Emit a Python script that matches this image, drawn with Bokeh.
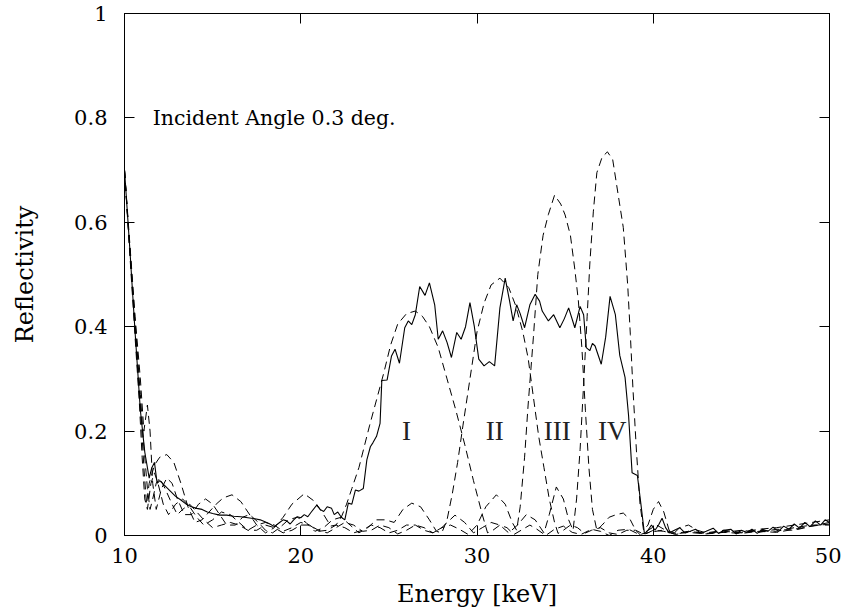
from bokeh.plotting import figure
from bokeh.models import LinearAxis, Range1d, FixedTicker
from bokeh.core.properties import value
from bokeh.embed import file_html
from bokeh.resources import INLINE

# ---------------- data ----------------
total_e = [10.0, 10.3, 10.6, 10.9, 11.15, 11.4, 11.55, 11.7, 11.85, 12.0, 12.3, 12.6, 12.9, 13.2, 13.5,
           13.8, 14.1, 14.4, 14.7, 15.0, 15.4, 15.8, 16.2, 16.6, 17.0, 17.4, 17.7, 18.0, 18.25, 18.5,
           18.8, 19.0, 19.2, 19.4, 19.6, 19.8, 20.0, 20.2, 20.4, 20.6, 20.9, 21.1, 21.3, 21.5, 21.75,
           21.9, 22.1, 22.3, 22.5, 22.7, 22.9, 23.1, 23.3, 23.55, 23.75, 23.95, 24.1, 24.3, 24.5, 24.6,
           24.9, 25.15, 25.35, 25.6, 25.9, 26.1, 26.3, 26.5, 26.75, 27.05, 27.3, 27.6, 27.8, 28.05, 28.3,
           28.55, 28.85, 29.1, 29.35, 29.6, 29.85, 30.1, 30.4, 30.7, 31.0, 31.3, 31.6, 31.85, 32.05, 32.25,
           32.45, 32.7, 33.0, 33.3, 33.55, 33.7, 34.05, 34.35, 34.7, 34.95, 35.2, 35.55, 35.85, 36.05, 36.2,
           36.4, 36.55, 36.7, 37.05, 37.3, 37.55, 37.85, 38.1, 38.4, 38.6, 38.8, 39.1, 39.3, 39.5, 39.7,
           39.9, 40.1, 40.3, 40.5, 40.7, 40.9, 41.2, 41.5, 41.8, 42.1, 42.4, 42.7, 43.0, 43.4, 43.7,
           44.0, 44.4, 44.7, 45.0, 45.3, 45.6, 45.9, 46.2, 46.5, 46.8, 47.1, 47.4, 47.7, 48.0, 48.3,
           48.6, 48.9, 49.2, 49.5, 49.75, 50.0]
total_r = [0.70, 0.55, 0.39, 0.24, 0.16, 0.11, 0.13, 0.14, 0.10, 0.105, 0.095, 0.085, 0.075, 0.068, 0.06,
           0.055, 0.052, 0.05, 0.045, 0.042, 0.039, 0.039, 0.037, 0.036, 0.034, 0.032, 0.03, 0.026, 0.022, 0.017,
           0.025, 0.03, 0.028, 0.022, 0.03, 0.036, 0.034, 0.04, 0.036, 0.045, 0.058, 0.05, 0.046, 0.055, 0.052,
           0.04, 0.045, 0.035, 0.03, 0.062, 0.06, 0.087, 0.085, 0.09, 0.145, 0.17, 0.178, 0.19, 0.215, 0.297,
           0.298, 0.344, 0.357, 0.33, 0.398, 0.411, 0.404, 0.423, 0.477, 0.46, 0.484, 0.442, 0.376, 0.392, 0.37,
           0.341, 0.389, 0.376, 0.40, 0.446, 0.40, 0.338, 0.325, 0.333, 0.325, 0.436, 0.493, 0.449, 0.411, 0.442,
           0.425, 0.398, 0.442, 0.462, 0.449, 0.43, 0.411, 0.423, 0.398, 0.415, 0.436, 0.398, 0.439, 0.423, 0.36,
           0.354, 0.368, 0.363, 0.328, 0.38, 0.458, 0.423, 0.345, 0.303, 0.23, 0.12, 0.115, 0.06, 0.003, 0.01,
           0.02, 0.01, 0.02, 0.033, 0.015, 0.005, 0.01, 0.015, 0.005, 0.008, 0.012, 0.004, 0.008, 0.014, 0.004,
           0.01, 0.012, 0.003, 0.01, 0.006, 0.012, 0.004, 0.012, 0.008, 0.016, 0.008, 0.018, 0.012, 0.022, 0.014,
           0.025, 0.017, 0.028, 0.02, 0.03, 0.025]

block1_e = [10.0, 10.3, 10.6, 10.9, 11.1, 11.25, 11.4, 11.7, 12.0, 12.4, 12.8, 13.2, 13.6, 14.0, 14.4,
            14.8, 15.2, 15.6, 16.1, 16.6, 17.0, 17.5, 18.0, 18.5, 19.0, 19.5, 20.2, 20.8, 21.3, 21.7,
            22.0, 22.3, 22.6, 22.9, 23.3, 23.6, 23.9, 24.3, 24.7, 25.1, 25.5, 26.0, 26.5, 26.9, 27.3,
            27.8, 28.3, 28.8, 29.3, 29.8, 30.3, 30.6, 30.9, 31.3, 31.7, 32.1, 32.5, 33.0, 33.4, 33.9,
            34.4, 34.9, 35.4, 35.9, 36.5, 37.0, 37.5, 38.0, 38.6, 39.2, 39.8, 40.5, 41.2, 42.0, 43.0,
            44.0, 45.0, 46.0, 47.0, 48.0, 49.0, 50.0]
block1_r = [0.70, 0.55, 0.40, 0.25, 0.13, 0.06, 0.10, 0.135, 0.15, 0.155, 0.14, 0.10, 0.055, 0.025, 0.03,
            0.045, 0.06, 0.072, 0.078, 0.065, 0.045, 0.02, 0.005, 0.015, 0.035, 0.06, 0.08, 0.065, 0.04, 0.018,
            0.02, 0.035, 0.06, 0.09, 0.13, 0.17, 0.21, 0.26, 0.31, 0.365, 0.405, 0.425, 0.43, 0.42, 0.40,
            0.36, 0.30, 0.24, 0.175, 0.105, 0.04, 0.005, 0.01, 0.02, 0.015, 0.002, 0.01, 0.02, 0.012, 0.0,
            0.012, 0.018, 0.006, 0.002, 0.012, 0.008, 0.0, 0.01, 0.012, 0.002, 0.006, 0.01, 0.003, 0.006, 0.003,
            0.006, 0.004, 0.008, 0.006, 0.012, 0.018, 0.025]

block2_e = [10.0, 10.3, 10.6, 10.9, 11.1, 11.3, 11.45, 11.6, 11.8, 12.1, 12.4, 12.7, 13.0, 13.4, 13.8,
            14.2, 14.6, 15.0, 15.4, 15.8, 16.3, 16.7, 17.1, 17.6, 18.0, 18.4, 18.8, 19.3, 19.8, 20.3,
            20.8, 21.3, 21.8, 22.3, 22.8, 23.3, 23.8, 24.3, 24.8, 25.3, 25.8, 26.3, 26.8, 27.3, 27.7,
            28.0, 28.3, 28.6, 28.9, 29.2, 29.6, 30.0, 30.4, 30.8, 31.3, 31.8, 32.2, 32.6, 32.9, 33.2,
            33.5, 33.8, 34.1, 34.4, 34.6, 34.9, 35.3, 35.7, 36.1, 36.5, 37.0, 37.5, 38.0, 38.5, 39.0,
            39.5, 40.0, 40.6, 41.3, 42.0, 43.0, 44.0, 45.0, 46.0, 47.0, 48.0, 49.0, 50.0]
block2_r = [0.70, 0.56, 0.42, 0.30, 0.20, 0.25, 0.20, 0.10, 0.05, 0.09, 0.11, 0.10, 0.07, 0.04, 0.04,
            0.06, 0.07, 0.06, 0.04, 0.02, 0.02, 0.035, 0.04, 0.025, 0.01, 0.005, 0.015, 0.03, 0.035, 0.025,
            0.008, 0.015, 0.03, 0.035, 0.02, 0.005, 0.015, 0.03, 0.03, 0.025, 0.05, 0.062, 0.055, 0.03, 0.008,
            0.005, 0.03, 0.08, 0.14, 0.21, 0.30, 0.39, 0.445, 0.48, 0.493, 0.475, 0.44, 0.39, 0.34, 0.265,
            0.19, 0.13, 0.07, 0.025, 0.004, 0.01, 0.02, 0.015, 0.004, 0.01, 0.015, 0.005, 0.002, 0.01, 0.01,
            0.002, 0.01, 0.008, 0.002, 0.008, 0.004, 0.008, 0.005, 0.01, 0.008, 0.015, 0.02, 0.02]

block3_e = [10.0, 10.3, 10.6, 10.85, 11.0, 11.15, 11.3, 11.5, 11.7, 11.9, 12.2, 12.5, 12.9, 13.3, 13.7,
            14.1, 14.5, 15.0, 15.5, 16.0, 16.5, 17.0, 17.5, 18.0, 18.5, 19.0, 19.5, 20.0, 20.5, 21.0,
            21.5, 22.0, 22.5, 23.0, 23.5, 24.0, 24.5, 25.0, 25.5, 26.0, 26.5, 27.0, 27.5, 28.0, 28.5,
            29.0, 29.5, 30.0, 30.5, 31.1, 31.6, 32.0, 32.25, 32.45, 32.7, 32.9, 33.2, 33.45, 33.75, 34.05,
            34.4, 34.75, 35.0, 35.3, 35.55, 35.75, 35.95, 36.15, 36.35, 36.55, 36.8, 37.1, 37.5, 37.9, 38.3,
            38.7, 39.0, 39.3, 39.7, 40.2, 40.7, 41.3, 42.0, 43.0, 44.0, 45.0, 46.0, 47.0, 48.0, 49.0, 50.0]
block3_r = [0.70, 0.54, 0.38, 0.25, 0.15, 0.07, 0.05, 0.10, 0.12, 0.10, 0.06, 0.04, 0.06, 0.07, 0.055,
            0.035, 0.02, 0.03, 0.045, 0.04, 0.025, 0.01, 0.02, 0.025, 0.02, 0.008, 0.015, 0.025, 0.02, 0.008,
            0.01, 0.02, 0.015, 0.005, 0.01, 0.02, 0.015, 0.005, 0.01, 0.02, 0.02, 0.01, 0.005, 0.015, 0.02,
            0.012, 0.002, 0.02, 0.055, 0.078, 0.06, 0.025, 0.01, 0.055, 0.15, 0.25, 0.38, 0.50, 0.575, 0.615,
            0.652, 0.635, 0.614, 0.575, 0.51, 0.45, 0.36, 0.24, 0.13, 0.05, 0.01, 0.02, 0.035, 0.04, 0.043,
            0.03, 0.01, 0.0, 0.01, 0.02, 0.01, 0.004, 0.008, 0.004, 0.006, 0.01, 0.006, 0.012, 0.01, 0.018, 0.022]

block4_e = [10.0, 10.3, 10.6, 10.9, 11.1, 11.3, 11.45, 11.6, 11.8, 12.0, 12.3, 12.7, 13.0, 13.3, 13.7,
            14.1, 14.5, 15.0, 15.5, 16.0, 16.5, 17.0, 17.5, 18.0, 18.5, 19.0, 19.5, 20.0, 20.5, 21.0,
            21.5, 22.0, 22.5, 23.0, 23.5, 24.0, 24.5, 25.0, 25.5, 26.0, 26.5, 27.0, 27.5, 28.0, 28.75,
            29.3, 29.8, 30.3, 30.8, 31.3, 31.8, 32.3, 32.8, 33.3, 33.8, 34.1, 34.5, 34.9, 35.2, 35.45,
            35.65, 35.85, 36.05, 36.25, 36.4, 36.6, 36.8, 37.1, 37.4, 37.7, 38.0, 38.3, 38.55, 38.7, 38.85,
            39.05, 39.25, 39.45, 39.7, 40.0, 40.3, 40.6, 40.9, 41.2, 41.5, 42.0, 42.5, 43.0, 44.0, 45.0,
            46.0, 47.0, 48.0, 49.0, 50.0]
block4_r = [0.70, 0.55, 0.41, 0.27, 0.17, 0.09, 0.05, 0.07, 0.10, 0.11, 0.09, 0.06, 0.04, 0.05, 0.06,
            0.045, 0.03, 0.015, 0.02, 0.025, 0.02, 0.01, 0.01, 0.02, 0.015, 0.005, 0.01, 0.02, 0.02, 0.01,
            0.005, 0.015, 0.025, 0.02, 0.008, 0.01, 0.02, 0.015, 0.003, 0.01, 0.02, 0.015, 0.005, 0.015, 0.039,
            0.025, 0.005, 0.015, 0.025, 0.02, 0.005, 0.02, 0.04, 0.03, 0.005, 0.04, 0.093, 0.07, 0.03, 0.01,
            0.07, 0.165, 0.29, 0.42, 0.52, 0.62, 0.695, 0.725, 0.735, 0.72, 0.655, 0.59, 0.48, 0.385, 0.28,
            0.16, 0.06, 0.01, 0.02, 0.05, 0.065, 0.045, 0.01, 0.005, 0.015, 0.02, 0.01, 0.005, 0.01, 0.006,
            0.012, 0.015, 0.02, 0.025, 0.03]

block_labels = ["I", "II", "III", "IV"]
block_label_e = [26.0, 31.0, 34.55, 37.67]
block_label_r = [0.2, 0.2, 0.2, 0.2]

note_text = ["Incident Angle 0.3 deg."]
note_e = [11.6]
note_r = [0.8]

x_major = [10, 20, 30, 40, 50]
y_major = [0, 0.2, 0.4, 0.6, 0.8, 1.0]
y_labels = {0: "0", 0.2: "0.2", 0.4: "0.4", 0.6: "0.6", 0.8: "0.8", 1: "1"}

# ---------------- figure ----------------
FONT = "DejaVu Serif"
p = figure(width=841, height=610, output_backend="svg", toolbar_location=None,
           x_range=Range1d(10, 50), y_range=Range1d(0, 1),
           min_border_left=124, min_border_right=12, min_border_top=13, min_border_bottom=72)
p.grid.visible = False
p.outline_line_color = "black"
p.outline_line_width = 1
p.background_fill_color = "white"
p.border_fill_color = "white"

def style_axis(ax, ticks, n_minor, minor_len, show_labels):
    ax.ticker = FixedTicker(ticks=ticks, num_minor_ticks=n_minor)
    ax.axis_line_color = "black"
    ax.major_tick_in = 10
    ax.major_tick_out = 0
    ax.minor_tick_in = minor_len
    ax.minor_tick_out = 0
    ax.major_tick_line_color = "black"
    ax.minor_tick_line_color = "black"
    if show_labels:
        ax.major_label_text_font = FONT
        ax.major_label_text_font_size = "21px"
        ax.major_label_text_color = "black"
    else:
        ax.major_label_text_font_size = "0px"
        ax.major_label_standoff = 0
        ax.axis_label = None

xb = p.xaxis[0]
yl = p.yaxis[0]
style_axis(xb, x_major, 5, 5, True)
style_axis(yl, y_major, 2, 10, True)
xb.major_label_standoff = 12
yl.major_label_standoff = 17
yl.major_label_overrides = y_labels
xb.axis_label = "Energy [keV]"
yl.axis_label = "Reflectivity"
for ax in (xb, yl):
    ax.axis_label_text_font = FONT
    ax.axis_label_text_font_style = "normal"
    ax.axis_label_text_color = "black"
xb.axis_label_text_font_size = "24px"
yl.axis_label_text_font_size = "24px"
xb.axis_label_standoff = 14
yl.axis_label_standoff = 32

xt = LinearAxis()
yr = LinearAxis()
style_axis(xt, x_major, 5, 5, False)
style_axis(yr, y_major, 2, 10, False)
p.add_layout(xt, "above")
p.add_layout(yr, "right")

# curves
dash = "8 5"
for e, r in ((block1_e, block1_r), (block2_e, block2_r), (block3_e, block3_r), (block4_e, block4_r)):
    p.line(e, r, line_color="black", line_width=1, line_dash=dash)
p.line(total_e, total_r, line_color="black", line_width=1.1)

p.text(x=block_label_e, y=block_label_r, text=block_labels, text_font=value("Liberation Serif"),
       text_font_size="27px", text_align="center", text_baseline="middle", text_color="#222222")
p.text(x=note_e, y=note_r, text=note_text, text_font=value(FONT),
       text_font_size="20.5px", text_align="left", text_baseline="middle", text_color="black")

open("out.html", "w").write(file_html(p, INLINE))
